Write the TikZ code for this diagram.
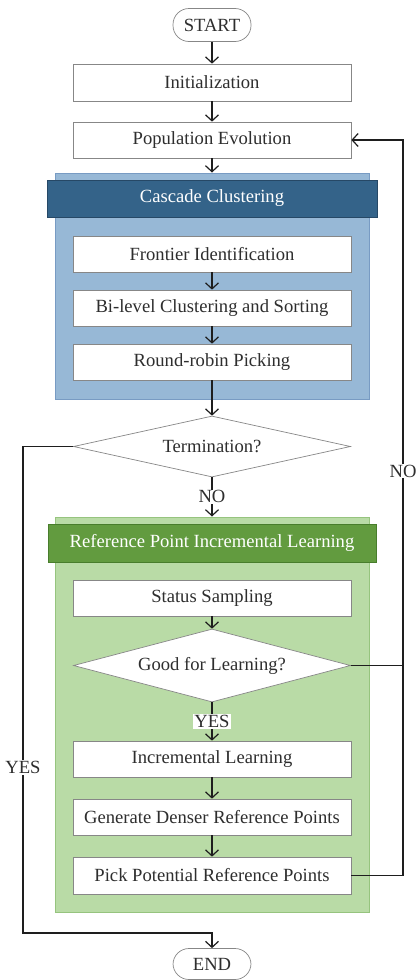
\documentclass[tikz,border=0pt]{standalone}
\usepackage{fontspec}
\setmainfont{Liberation Serif}
\usetikzlibrary{shapes.geometric,arrows.meta}
\definecolor{boxline}{RGB}{135,135,135}
\definecolor{arrline}{RGB}{30,30,30}
\definecolor{bluebg}{RGB}{151,184,214}
\definecolor{blueedge}{RGB}{120,155,195}
\definecolor{bluehead}{RGB}{52,99,137}
\definecolor{blueheadedge}{RGB}{38,72,102}
\definecolor{greenbg}{RGB}{185,219,166}
\definecolor{greenedge}{RGB}{150,196,126}
\definecolor{greenhead}{RGB}{98,155,63}
\definecolor{greenheadedge}{RGB}{72,125,44}
\tikzset{
  x=1pt, y=1pt,
  every node/.style={font=\fontsize{18.6}{20}\selectfont, text=black!82},
  stepbox/.style={draw=boxline, line width=0.7pt, fill=white, minimum width=278pt, minimum height=36pt, inner sep=0pt},
  term/.style={draw=boxline, line width=0.7pt, fill=white, rounded corners=16pt, minimum width=78pt, minimum height=33pt, inner sep=0pt},
  decision/.style={diamond, aspect=4.5, draw=boxline, line width=0.7pt, fill=white, minimum width=277pt, inner sep=0pt},
  container/.style={draw=#1, line width=1pt, minimum width=314pt, inner sep=0pt},
  header/.style={draw=#1, line width=1pt, text=white, inner sep=0pt},
  arr/.style={draw=arrline, line width=1.2pt, -{Straight Barb[length=6pt,width=13pt,line width=1.2pt]}},
  conn/.style={draw=arrline, line width=1.2pt},
  lbl/.style={fill=white, inner sep=1pt}
}
\begin{document}
\begin{tikzpicture}
\useasboundingbox (0,0) rectangle (417,-980);
% containers
\node[container=blueedge, fill=bluebg, minimum height=226pt] (cc) at (212,-286) {};
\node[header=blueheadedge, fill=bluehead, minimum width=330pt, minimum height=37pt] (cch) at (212,-198.5) {Cascade Clustering};
\node[container=greenedge, fill=greenbg, minimum height=395pt] (rl) at (212,-714.5) {};
\node[header=greenheadedge, fill=greenhead, minimum width=328pt, minimum height=38pt] (rlh) at (212,-543) {Reference Point Incremental Learning};
% nodes
\node[term] (start) at (212,-25) {START};
\node[stepbox, minimum height=37pt] (init) at (212,-82.5) {Initialization};
\node[stepbox] (pop) at (212,-140) {Population Evolution};
\node[stepbox] (fi) at (212,-254) {Frontier Identification};
\node[stepbox] (bl) at (212,-308) {Bi-level Clustering and Sorting};
\node[stepbox] (rr) at (212,-362) {Round-robin Picking};
\node[decision, minimum height=61pt] (tm) at (212,-446.5) {Termination?};
\node[stepbox] (ss) at (212,-598) {Status Sampling};
\node[decision, minimum height=73pt] (gl) at (212,-665.5) {Good for Learning?};
\node[stepbox] (il) at (212,-759) {Incremental Learning};
\node[stepbox] (gd) at (212,-817) {Generate Denser Reference Points};
\node[stepbox, minimum height=37pt] (pp) at (212,-875.5) {Pick Potential Reference Points};
\node[term, minimum height=31pt] (end) at (212,-964) {END};
% coordinates for loops
\coordinate (lx) at (23,-446.5);
\coordinate (lb) at (23,-933);
\coordinate (rb) at (403,-875.5);
\coordinate (rm) at (403,-665.5);
\coordinate (rt) at (403,-140);
% connectors
\draw[arr] (start) -- (init);
\draw[arr] (init) -- (pop);
\draw[arr] (pop) -- (cc.north);
\draw[arr] (fi) -- (bl);
\draw[arr] (bl) -- (rr);
\draw[arr] (rr) -- (tm);
\draw[arr] (tm.south) -- node[lbl, pos=0.5]{NO} (rl.north);
\draw[arr] (ss) -- (gl);
\draw[arr] (gl.south) -- node[lbl, pos=0.5]{YES} (il);
\draw[arr] (il) -- (gd);
\draw[arr] (gd) -- (pp);
\draw[arr] (tm.west) -- (lx) -- node[lbl, pos=0.66]{YES} (lb) -| (end.north);
\draw[arr] (pp.east) -- (rb) -- node[lbl, pos=0.55]{NO} (rt) -- (pop.east);
\draw[conn] (gl.east) -- (rm);
\end{tikzpicture}
\end{document}
